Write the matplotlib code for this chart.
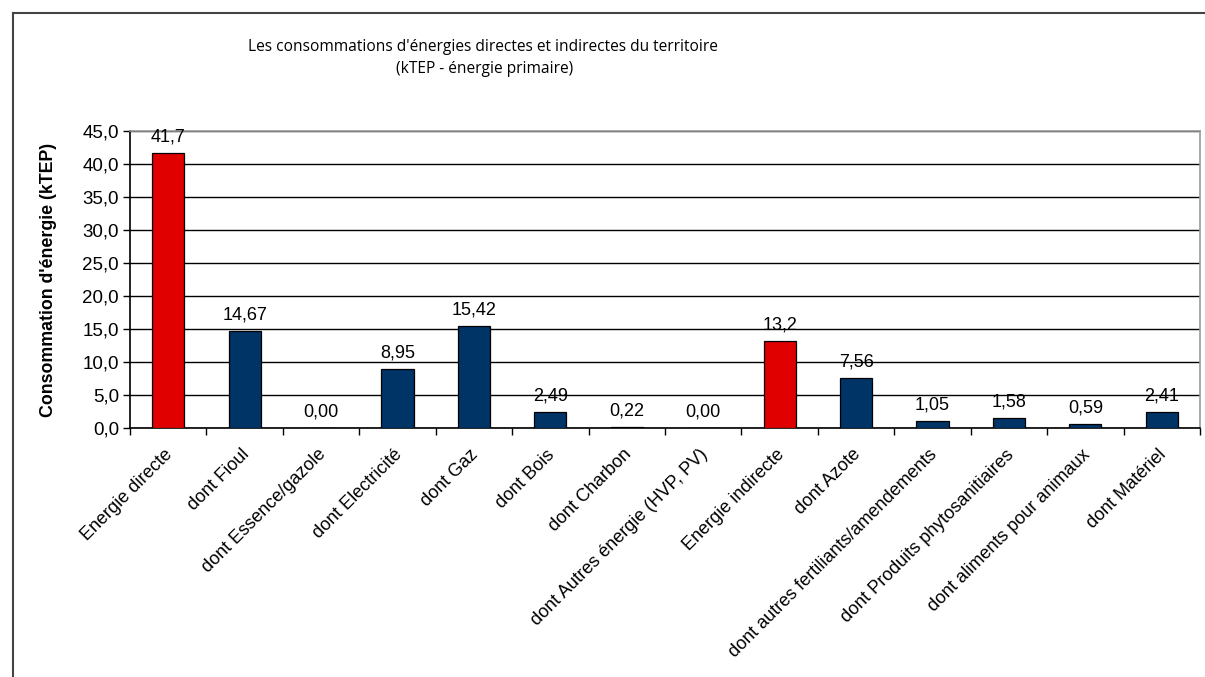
import matplotlib
matplotlib.use("Agg")
import matplotlib.pyplot as plt
import matplotlib.transforms as mtransforms
import numpy as np

categories = [
    "Energie directe", "dont Fioul", "dont Essence/gazole", "dont Electricité",
    "dont Gaz", "dont Bois", "dont Charbon", "dont Autres énergie (HVP, PV)",
    "Energie indirecte", "dont Azote", "dont autres fertiliants/amendements",
    "dont Produits phytosanitiaires", "dont aliments pour animaux", "dont Matériel",
]
values = [41.7, 14.67, 0.00, 8.95, 15.42, 2.49, 0.22, 0.00, 13.2, 7.56, 1.05, 1.58, 0.59, 2.41]
value_labels = ["41,7", "14,67", "0,00", "8,95", "15,42", "2,49", "0,22", "0,00",
                "13,2", "7,56", "1,05", "1,58", "0,59", "2,41"]
is_total = [True, False, False, False, False, False, False, False,
            True, False, False, False, False, False]
y_ticks = [0, 5, 10, 15, 20, 25, 30, 35, 40, 45]

RED = "#e00000"
BLUE = "#003366"

plt.rcParams["font.family"] = ["Liberation Sans", "DejaVu Sans"]

fig = plt.figure(figsize=(12.05, 6.77), dpi=100)
W, H = 1205, 677
ax = fig.add_axes([130 / W, 1 - 428 / H, (1200 - 130) / W, (428 - 131) / H])

x = np.arange(len(categories))
colors = [RED if t else BLUE for t in is_total]
bars = ax.bar(x, values, width=0.42, color=colors, edgecolor="black", linewidth=0.9, zorder=3)

for b, lab in zip(bars, value_labels):
    ax.text(b.get_x() + b.get_width() / 2, b.get_height() + 1.1, lab,
            ha="center", va="bottom", fontsize=13, color="black", zorder=4)

ax.set_xlim(-0.5, len(categories) - 0.5)
ax.set_ylim(0, 45)
ax.set_yticks(y_ticks)
ax.set_yticklabels([f"{v:.1f}".replace(".", ",") for v in y_ticks], fontsize=13.5)
ax.yaxis.grid(True, color="black", linewidth=1.0, zorder=0)
ax.set_axisbelow(True)

ax.set_xticks(x)
ax.set_xticklabels(categories, rotation=45, ha="right", rotation_mode="anchor", fontsize=13)
ax.tick_params(axis="x", length=0, pad=8)
shift = mtransforms.ScaledTranslation(-4 / 100, -7 / 100, fig.dpi_scale_trans)
for lbl in ax.get_xticklabels():
    lbl.set_transform(lbl.get_transform() + shift)
ax.set_xticks(np.arange(len(categories) + 1) - 0.5, minor=True)
ax.tick_params(axis="x", which="minor", length=5, width=1, direction="out")
ax.tick_params(axis="y", length=5, width=1, direction="out", pad=3)

for side in ["top", "right"]:
    ax.spines[side].set_color("#999999")
    ax.spines[side].set_linewidth(1.2)
for side in ["left", "bottom"]:
    ax.spines[side].set_color("black")
    ax.spines[side].set_linewidth(1.2)

ax.set_ylabel("Consommation d'énergie (kTEP)", fontsize=12.8, fontweight="bold")
ax.yaxis.set_label_coords((57 - 130) / 1070, 0.5)

fig.text(483 / W, 1 - 47 / H, "Les consommations d'énergies directes et indirectes du territoire",
         ha="center", va="center", fontsize=11.2, family=["Open Sans", "DejaVu Sans"])
fig.text(485 / W, 1 - 69 / H, "(kTEP - énergie primaire)",
         ha="center", va="center", fontsize=11.2, family=["Open Sans", "DejaVu Sans"])

# outer chart frame (cropped at right and bottom)
fig.add_artist(plt.Line2D([13 / W, 13 / W], [0, 1 - 13 / H], transform=fig.transFigure,
                          color="#444444", linewidth=1.5))
fig.add_artist(plt.Line2D([13 / W, 1], [1 - 13 / H, 1 - 13 / H], transform=fig.transFigure,
                          color="#444444", linewidth=1.5))

fig.savefig("out.png", dpi=100)
